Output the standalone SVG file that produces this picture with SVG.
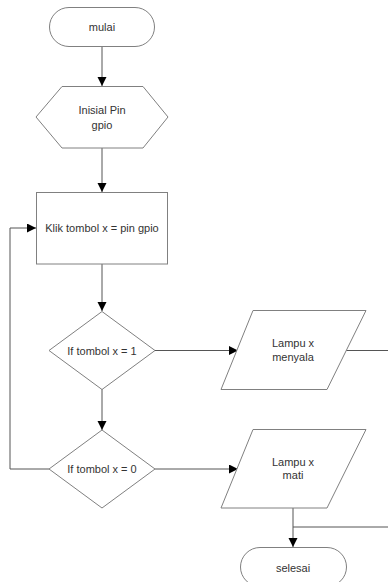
<svg xmlns="http://www.w3.org/2000/svg" width="388" height="582" viewBox="0 0 388 582">
<style>
.s{fill:#fff;stroke:#808080;stroke-width:1}
.c{fill:none;stroke:#555;stroke-width:1}
text{font-family:"Liberation Sans",Arial,sans-serif;font-size:11px;fill:#333;text-anchor:middle}
</style>
<defs>
<marker id="a" markerWidth="10" markerHeight="10" refX="9" refY="4.5" orient="auto" markerUnits="userSpaceOnUse">
<path d="M0,0 L9,4.5 L0,9 Z" fill="#000"/>
</marker>
</defs>
<rect width="388" height="582" fill="#fff"/>
<g id="connectors">
<path class="c" d="M102,47 V86" marker-end="url(#a)"/>
<path class="c" d="M102,148 V192" marker-end="url(#a)"/>
<path class="c" d="M102,264 V311" marker-end="url(#a)"/>
<path class="c" d="M155,350.5 H238" marker-end="url(#a)"/>
<path class="c" d="M346,350.5 H388"/>
<path class="c" d="M102,389 V430" marker-end="url(#a)"/>
<path class="c" d="M155,469 H238" marker-end="url(#a)"/>
<path class="c" d="M49,469 H10 V228 H36" marker-end="url(#a)"/>
<path class="c" d="M293,508 V547" marker-end="url(#a)"/>
<path class="c" d="M293,527 H388"/>
</g>
<g id="mulai">
<rect class="s" x="49.5" y="7.5" width="105" height="39" rx="19.5"/>
<text x="102" y="31">mulai</text>
</g>
<g id="inisial">
<polygon class="s" points="62,86.5 143,86.5 168,117 143,148 62,148 36,117"/>
<text x="102" y="114">Inisial Pin</text>
<text x="102" y="129">gpio</text>
</g>
<g id="klik">
<rect class="s" x="36.5" y="192.5" width="131" height="71.5"/>
<text x="102" y="232">Klik tombol x = pin gpio</text>
</g>
<g id="if1">
<polygon class="s" points="102,311.5 155,350.5 102,389.5 49,350.5"/>
<text x="102" y="354.5">If tombol x = 1</text>
</g>
<g id="menyala">
<polygon class="s" points="253,310.5 366,310.5 327,389.5 221,389.5"/>
<text x="293" y="347">Lampu x</text>
<text x="293" y="361">menyala</text>
</g>
<g id="if0">
<polygon class="s" points="102,430 155,469 102,508 49,469"/>
<text x="102" y="473">If tombol x = 0</text>
</g>
<g id="mati">
<polygon class="s" points="253,429.5 366,429.5 327,508 221,508"/>
<text x="293" y="466">Lampu x</text>
<text x="293" y="479">mati</text>
</g>
<g id="selesai">
<rect class="s" x="240.5" y="547.5" width="106" height="39" rx="19.5"/>
<text x="293" y="572">selesai</text>
</g>
</svg>
